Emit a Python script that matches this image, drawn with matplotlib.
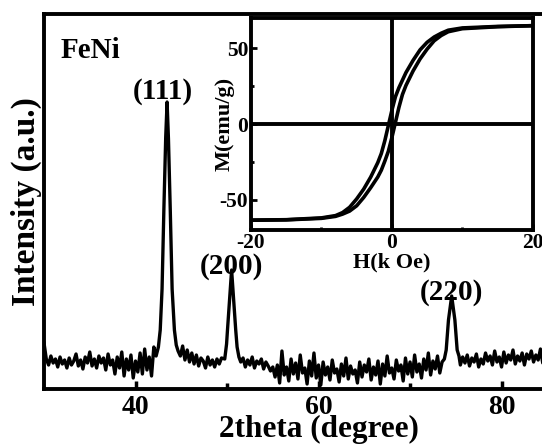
import numpy as np
import matplotlib
matplotlib.use('Agg')
import matplotlib.pyplot as plt

plt.rcParams['font.family'] = ['Liberation Serif', 'DejaVu Serif']
plt.rcParams['font.weight'] = 'bold'
plt.rcParams['axes.unicode_minus'] = False

# XRD pattern (intensity in arbitrary units)
# noisy baseline segments on a 0.25 degree grid, peaks typed point by point
base_a_x = np.arange(30.0, 42.01, 0.25)
base_a_y = [46, 30, 24, 33, 26, 30, 22, 32, 25, 29, 21, 31, 24, 28, 35, 23, 29, 20, 32, 26,
            37, 23, 30, 21, 33, 26, 31, 19, 35, 24, 29, 15, 32, 21, 37, 13, 30, 19, 34, 11,
            28, 17, 36, 15, 40, 19, 32, 13, 42]
peak111_x = [42.25, 42.5, 42.7, 42.9, 43.1, 43.3, 43.45, 43.6, 43.8, 44.0, 44.25, 44.45, 44.65]
peak111_y = [33, 42, 59, 100, 180, 252, 287, 250, 178, 100, 59, 44, 38]
base_b_x = np.arange(44.9, 49.51, 0.25)
base_b_y = [33, 43, 29, 39, 27, 36, 25, 34, 23, 31, 28, 21, 32, 24, 29, 22, 30, 25, 31]
peak200_x = [49.75, 49.95, 50.05, 50.28, 50.5, 50.72, 50.95, 51.1, 51.3]
peak200_y = [30, 45, 59, 89, 119, 89, 59, 42, 32]
base_c_x = np.arange(51.5, 55.01, 0.25)
base_c_y = [27, 31, 22, 29, 24, 32, 21, 28, 25, 30, 20, 27, 23, 18, 22]
base_d_x = np.arange(55.25, 73.51, 0.25)
base_d_y = [12, 24, 6, 38, 14, 22, 8, 30, 15, 26, 10, 34, 16, 21, 5, 28, 13, 36, 11, 24,
            4, 27, 14, 22, 9, 29, 16, 20, 7, 25, 13, 31, 10, 23, 15, 19, 6, 27, 12, 24,
            17, 30, 9, 22, 14, 28, 5, 25, 13, 33, 16, 21, 10, 29, 18, 24, 8, 31, 15, 27,
            12, 34, 17, 25, 11, 30, 19, 36, 14, 28, 20, 33, 16, 27]
peak220_x = [73.75, 73.95, 74.2, 74.55, 74.9, 75.15, 75.35]
peak220_y = [30, 39, 69, 93, 69, 39, 33]
base_e_x = np.arange(75.5, 87.01, 0.25)
base_e_y = [24, 32, 26, 34, 23, 31, 27, 35, 22, 30, 25, 36, 28, 33, 24, 38, 27, 32, 22,
            37, 26, 34, 29, 39, 25, 33, 28, 36, 24, 35, 30, 38, 27, 34, 29, 40, 26, 35, 31,
            37, 28, 36, 30, 39, 32, 34, 30]

two_theta = np.concatenate([base_a_x, peak111_x, base_b_x, peak200_x, base_c_x,
                            base_d_x, peak220_x, base_e_x])
intensity = np.concatenate([base_a_y, peak111_y, base_b_y, peak200_y, base_c_y,
                            base_d_y, peak220_y, base_e_y])

peak_labels = ['(111)', '(200)', '(220)']
peak_pos = [42.95, 50.5, 74.5]
peak_lab_y = [298, 123, 97]

# hysteresis loop (inset)
field = [-20, -15, -10, -8, -7, -6, -5, -4, -3, -2, -1.5, -1, -0.5, 0, 0.5, 1, 1.5, 2,
         3, 4, 5, 6, 7, 8, 10, 15, 20]
m_desc = [-63.5, -63.2, -62, -60.5, -58.5, -55, -49.5, -43, -35, -25.5, -19.5, -11, -1, 9,
          18, 24, 29, 34, 42, 49, 54, 57.5, 60, 62, 63.5, 64.5, 65]
m_asc = [-63.5, -63.3, -62.3, -61, -59.5, -57.5, -54, -48.5, -42, -35, -30.5, -24.5, -18,
         -9, 1, 11, 19.5, 25.5, 35, 43, 49.5, 55, 58.5, 61, 63, 64.3, 65]

fig = plt.figure(figsize=(5.42, 4.48), dpi=100)
ax = fig.add_axes([0.0812, 0.1317, 1.013, 0.837])
ax.plot(two_theta, intensity, color='black', lw=2.4)
ax.set_xlim(30, 90)
ax.set_ylim(0, 375)
ax.set_xticks([40, 60, 80])
ax.set_xticks([50, 70], minor=True)
ax.set_yticks([])
ax.tick_params(axis='x', which='major', direction='in', length=6, width=2.5,
               labelsize=20, pad=4)
ax.tick_params(axis='x', which='minor', direction='in', length=4, width=2.5)
for s in ax.spines.values():
    s.set_linewidth(2.8)
ax.set_xlabel('2theta (degree)', fontsize=22.5, fontweight='bold', labelpad=-3.5)
ax.set_ylabel('Intensity (a.u.)', fontsize=24, fontweight='bold')
ax.yaxis.set_label_coords(-0.004, 0.5)
ax.text(31.85, 339, 'FeNi', fontsize=21, fontweight='bold', va='center', ha='left')
for lab, px, py in zip(peak_labels, peak_pos, peak_lab_y):
    ax.text(px, py, lab, fontsize=21, fontweight='bold', ha='center', va='center')

ins = fig.add_axes([0.463, 0.4866, 0.520, 0.473])
ins.plot(field, m_desc, color='black', lw=2.6)
ins.plot(field, m_asc, color='black', lw=2.6)
ins.axvline(0, color='black', lw=2.8)
ins.axhline(0, color='black', lw=2.8)
ins.set_xlim(-20, 20)
ins.set_ylim(-70, 70)
ins.set_xticks([-20, 0, 20])
ins.set_xticks([-10, 10], minor=True)
ins.set_yticks([-50, 0, 50])
ins.set_yticks([-25, 25], minor=True)
ins.tick_params(which='major', direction='in', length=4, width=2, labelsize=15.5, pad=2)
ins.tick_params(which='minor', direction='in', length=2.5, width=2)
for s in ins.spines.values():
    s.set_linewidth(2.8)
ins.set_xlabel('H(k Oe)', fontsize=16, fontweight='bold', labelpad=0)
ins.set_ylabel('M(emu/g)', fontsize=16, fontweight='bold')
ins.yaxis.set_label_coords(-0.057, 0.5)

fig.savefig('out.png', dpi=100)
